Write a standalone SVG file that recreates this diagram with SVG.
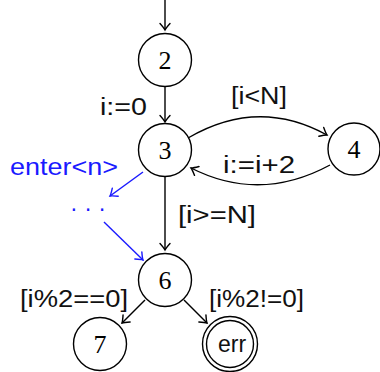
<svg xmlns="http://www.w3.org/2000/svg" width="380" height="372" viewBox="0 0 380 372">
<defs>
<marker id="ah" markerWidth="12" markerHeight="12" refX="0" refY="0" viewBox="-8 -6 10 12" orient="auto" markerUnits="userSpaceOnUse">
<path d="M-6.5,-5 Q-2,-1 0,0 Q-2,1 -6.5,5" fill="none" stroke="#000" stroke-width="1.4" stroke-linecap="round"/>
</marker>
<marker id="ahb" markerWidth="12" markerHeight="12" refX="0" refY="0" viewBox="-8 -6 10 12" orient="auto" markerUnits="userSpaceOnUse">
<path d="M-6.5,-5 Q-2,-1 0,0 Q-2,1 -6.5,5" fill="none" stroke="#1a1aff" stroke-width="1.4" stroke-linecap="round"/>
</marker>
</defs>
<style>
.n{fill:#fff;stroke:#000;stroke-width:1.4}
.num{font-family:"Liberation Serif","DejaVu Serif",serif;font-size:26px;text-anchor:middle;fill:#000}
.lab{font-family:"Liberation Sans","DejaVu Sans",sans-serif;font-size:23px;fill:#111}
.blue{fill:#1a1aff}
.e{fill:none;stroke:#000;stroke-width:1.4;marker-end:url(#ah)}
.eb{fill:none;stroke:#1a1aff;stroke-width:1.4;marker-end:url(#ahb)}
</style>
<g id="connectors">
<path class="e" d="M165,0 L165,30"/>
<path class="e" d="M165,87 L165,122"/>
<path class="e" d="M188,138 Q258,97 327,135"/>
<path class="e" d="M330,165 Q260,203 191,168"/>
<path class="e" d="M165,176 L165,250"/>
<path class="eb" d="M143,172 L110,196"/>
<path class="eb" d="M104,222 L143,260"/>
<path class="e" d="M145,300 L122,323"/>
<path class="e" d="M184,300 L207,323"/>
</g>
<g id="labels">
<text class="lab" x="100" y="115" textLength="47" lengthAdjust="spacingAndGlyphs">i:=0</text>
<text class="lab" x="231" y="104" textLength="56" lengthAdjust="spacingAndGlyphs">[i&lt;N]</text>
<text class="lab" x="223" y="173" textLength="72" lengthAdjust="spacingAndGlyphs">i:=i+2</text>
<text class="lab blue" x="10" y="175" textLength="108" lengthAdjust="spacingAndGlyphs">enter&lt;n&gt;</text>
<text class="lab blue" x="88" y="216" text-anchor="middle">· · ·</text>
<text class="lab" x="178" y="223" textLength="78" lengthAdjust="spacingAndGlyphs">[i&gt;=N]</text>
<text class="lab" x="20" y="307" textLength="108" lengthAdjust="spacingAndGlyphs">[i%2==0]</text>
<text class="lab" x="209" y="307" textLength="95" lengthAdjust="spacingAndGlyphs">[i%2!=0]</text>
</g>
<g id="node2"><circle class="n" cx="165" cy="60" r="26.5"/><text class="num" x="165" y="69">2</text></g>
<g id="node3"><circle class="n" cx="165" cy="150" r="26.5"/><text class="num" x="165" y="159">3</text></g>
<g id="node4"><circle class="n" cx="354" cy="149" r="26"/><text class="num" x="354" y="158">4</text></g>
<g id="node6"><circle class="n" cx="165" cy="280" r="26.5"/><text class="num" x="165" y="289">6</text></g>
<g id="node7"><circle class="n" cx="100" cy="344" r="26.5"/><text class="num" x="100" y="353">7</text></g>
<g id="nodeerr"><circle class="n" cx="230" cy="344" r="27.5"/><circle class="n" cx="230" cy="344" r="23.5"/><text class="lab" x="232" y="352" text-anchor="middle" font-size="22">err</text></g>
</svg>
